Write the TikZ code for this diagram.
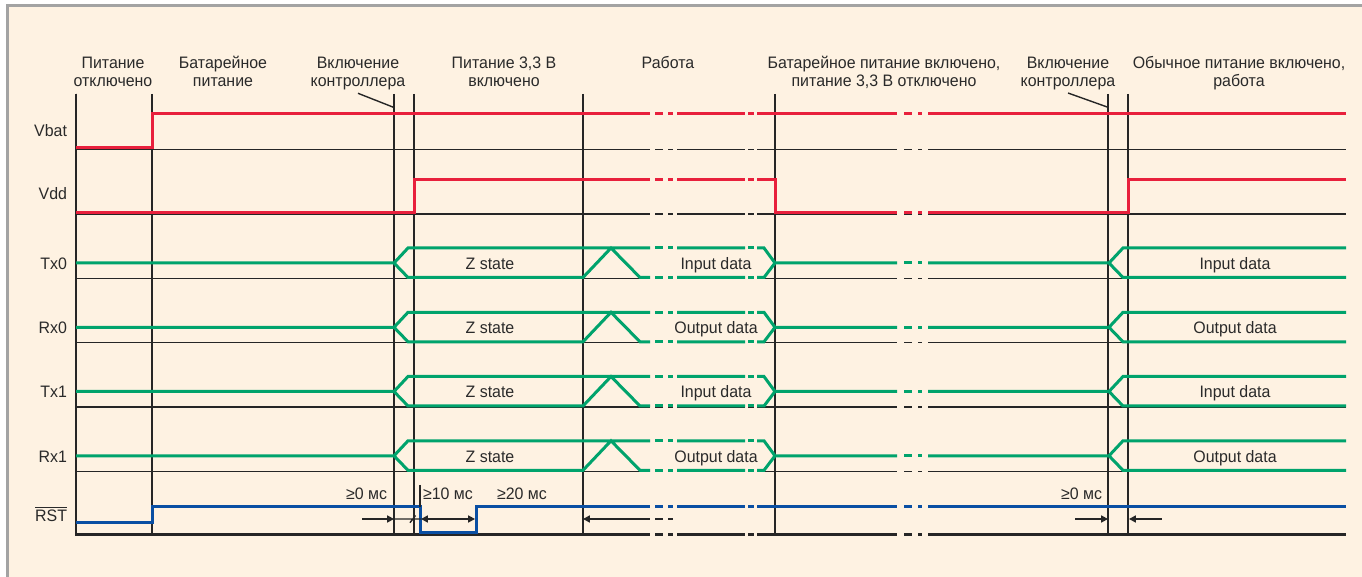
\documentclass[tikz,border=0pt]{standalone}
\usepackage{fontspec}
\setmainfont[FakeStretch=0.96]{Liberation Sans}
\usetikzlibrary{arrows.meta}

\definecolor{paper}{HTML}{FEF2E2}
\definecolor{rim}{HTML}{A3A3A3}
\definecolor{ink}{HTML}{262626}
\definecolor{txt}{HTML}{2A2A2A}
\definecolor{sigred}{HTML}{E8203C}
\definecolor{siggreen}{HTML}{00A36C}
\definecolor{sigblue}{HTML}{0A4FA3}

% dash-dot pieces that mark the three time breaks
\newcommand\gapA[2]{\draw[#1] (655,#2)--(663,#2) (668,#2)--(673,#2);}
\newcommand\gapB[2]{\draw[#1] (748,#2)--(754,#2);}
\newcommand\gapC[2]{\draw[#1] (904,#2)--(912,#2) (918,#2)--(922,#2);}
% horizontal line interrupted at all three breaks: style, y, x1, x2
\newcommand\brokenline[4]{%
  \draw[#1] (#3,#2)--(650,#2) (677,#2)--(745,#2) (757,#2)--(897,#2) (928,#2)--(#4,#2);
  \gapA{#1}{#2}\gapB{#1}{#2}\gapC{#1}{#2}}
% one bus signal row: name, baseline y, label, data text (middle), data text (right)
\newcommand\busrow[5]{%
  \draw[bus] (76,#2-15.5)--(394,#2-15.5)--(408,#2-30.5)--(650,#2-30.5)
    (394,#2-15.5)--(408,#2-1)--(583,#2-1)--(611,#2-30.5)--(640,#2-1)--(650,#2-1)
    (677,#2-30.5)--(745,#2-30.5) (677,#2-1)--(745,#2-1)
    (757,#2-30.5)--(764,#2-30.5)--(775,#2-15.5)--(897,#2-15.5)
    (757,#2-1)--(764,#2-1)--(775,#2-15.5)
    (928,#2-15.5)--(1109,#2-15.5)--(1123,#2-30.5)--(1346,#2-30.5)
    (1109,#2-15.5)--(1123,#2-1)--(1346,#2-1);
  \gapA{bus}{#2-30.5}\gapA{bus}{#2-1}\gapB{bus}{#2-30.5}\gapB{bus}{#2-1}\gapC{bus}{#2-15.5}
  \node[siglbl] (#1-name) at (67,#2-9.2) {#3};
  \node[wavetxt] (#1-z) at (490,#2-9) {Z state};
  \node[wavetxt] (#1-mid) at (716,#2-9) {#4};
  \node[wavetxt] (#1-right) at (1235,#2-9) {#5};
}
% two-line heading above a time interval: name, x, first line, second line
\newcommand\heading[4]{%
  \node[hdr] (#1-a) at (#2,68.3) {#3};
  \node[hdr] (#1-b) at (#2,86.5) {#4};
}

\begin{document}
\begin{tikzpicture}[x=0.5pt,y=-0.5pt,
  every node/.style={inner sep=0pt,outer sep=0pt,text=txt,font=\fontsize{8.3}{9}\selectfont},
  hdr/.style={anchor=base},
  siglbl/.style={anchor=base east},
  wavetxt/.style={anchor=base},
  grid/.style={draw=ink,line width=0.7pt},
  axis/.style={draw=ink,line width=1.3pt},
  vpow/.style={draw=sigred,line width=1.5pt},
  bus/.style={draw=siggreen,line width=1.5pt},
  rst/.style={draw=sigblue,line width=1.5pt},
  dim/.style={draw=ink,line width=0.7pt},
  tip/.tip={Triangle[length=3.4pt,width=3.5pt]}]
\useasboundingbox (0,0) rectangle (1362,577);

% panel
\fill[white] (0,0) rectangle (1362,577);
\fill[paper] (7.5,5.5) rectangle (1362,577);
\draw[rim,line width=1.3pt] (7.5,577)--(7.5,5.5)--(1362,5.5);

% headings
\heading{off}{113}{Питание}{отключено}
\heading{bat}{223}{Батарейное}{питание}
\heading{ctlA}{358}{Включение}{контроллера}
\heading{on33}{504}{Питание 3,3 В}{включено}
\node[hdr] (work) at (668,68.3) {Работа};
\heading{batoff}{884}{Батарейное питание включено,}{питание 3,3 В отключено}
\heading{ctlB}{1068}{Включение}{контроллера}
\heading{norm}{1239}{Обычное питание включено,}{работа}

% leaders from the "Включение контроллера" headings
\draw[grid] (358,93.3)--(393.5,107.3);
\draw[grid] (1068,93)--(1108,107.3);

% time markers
\foreach \t in {152,394,414,583,775,1108,1128}
  \draw[grid] (\t,94)--(\t,534.7);

% row baselines
\foreach \b in {149.5,214,278.5,342.8,407,471.3}
  \brokenline{grid}{\b}{76}{1346}
\brokenline{axis}{534.7}{75.35}{1346}
\draw[axis] (76,94)--(76,535.35);

% Vbat
\node[siglbl] (vbat-name) at (67,137) {Vbat};
\draw[vpow] (76,148)--(152,148)--(152,114)--(650,114) (677,114)--(745,114)
  (757,114)--(897,114) (928,114)--(1346,114);
\gapA{vpow}{114}\gapB{vpow}{114}\gapC{vpow}{114}

% Vdd
\node[siglbl] (vdd-name) at (67,199.5) {Vdd};
\draw[vpow] (76,212.5)--(414,212.5)--(414,180)--(650,180) (677,180)--(745,180)
  (757,180)--(775,180)--(775,212.5)--(897,212.5)
  (928,212.5)--(1128,212.5)--(1128,180)--(1346,180);
\gapA{vpow}{180}\gapB{vpow}{180}\gapC{vpow}{212.5}

% data lines
\busrow{txa}{278.5}{Tx0}{Input data}{Input data}
\busrow{rxa}{342.8}{Rx0}{Output data}{Output data}
\busrow{txb}{407}{Tx1}{Input data}{Input data}
\busrow{rxb}{471.3}{Rx1}{Output data}{Output data}

% reset
\node[siglbl] (rst-name) at (67,522) {$\overline{\mbox{RST}}$};
\draw[rst] (76,523)--(152,523)--(152,507)--(420,507)--(420,532.5)--(476,532.5)
  --(476,507)--(650,507) (677,507)--(745,507) (757,507)--(897,507) (928,507)--(1346,507);
\gapA{rst}{507}\gapB{rst}{507}\gapC{rst}{507}

% timing requirements
\coordinate (fallA) at (420,485);
\coordinate (fallB) at (420,507);
\draw[dim] (fallA)--(fallB);
\coordinate (d0a) at (362,519);
\coordinate (d0b) at (394,519);
\coordinate (d0c) at (421,519);
\coordinate (d10b) at (475,519);
\coordinate (d20a) at (583,519);
\coordinate (d20b) at (650,519);
\draw[dim,-tip] (d0a)--(d0b);
\draw[dim] (d0b)--(d0c) (410,522.7)--(415.5,515.5);
\draw[dim,tip-tip] (d0c)--(d10b);
\draw[dim,tip-] (d20a)--(d20b);
\gapA{dim}{519}
\coordinate (e0a) at (1075,519);
\coordinate (e0b) at (1108,519);
\coordinate (e0c) at (1129,519);
\coordinate (e0d) at (1162,519);
\draw[dim,-tip] (e0a)--(e0b);
\draw[dim,tip-] (e0c)--(e0d);
\node[anchor=base east] (t0a) at (387,500) {≥0 мс};
\node[anchor=base west] (t10) at (423,500) {≥10 мс};
\node[anchor=base west] (t20) at (497,500) {≥20 мс};
\node[anchor=base east] (t0b) at (1102,500) {≥0 мс};
\end{tikzpicture}
\end{document}
